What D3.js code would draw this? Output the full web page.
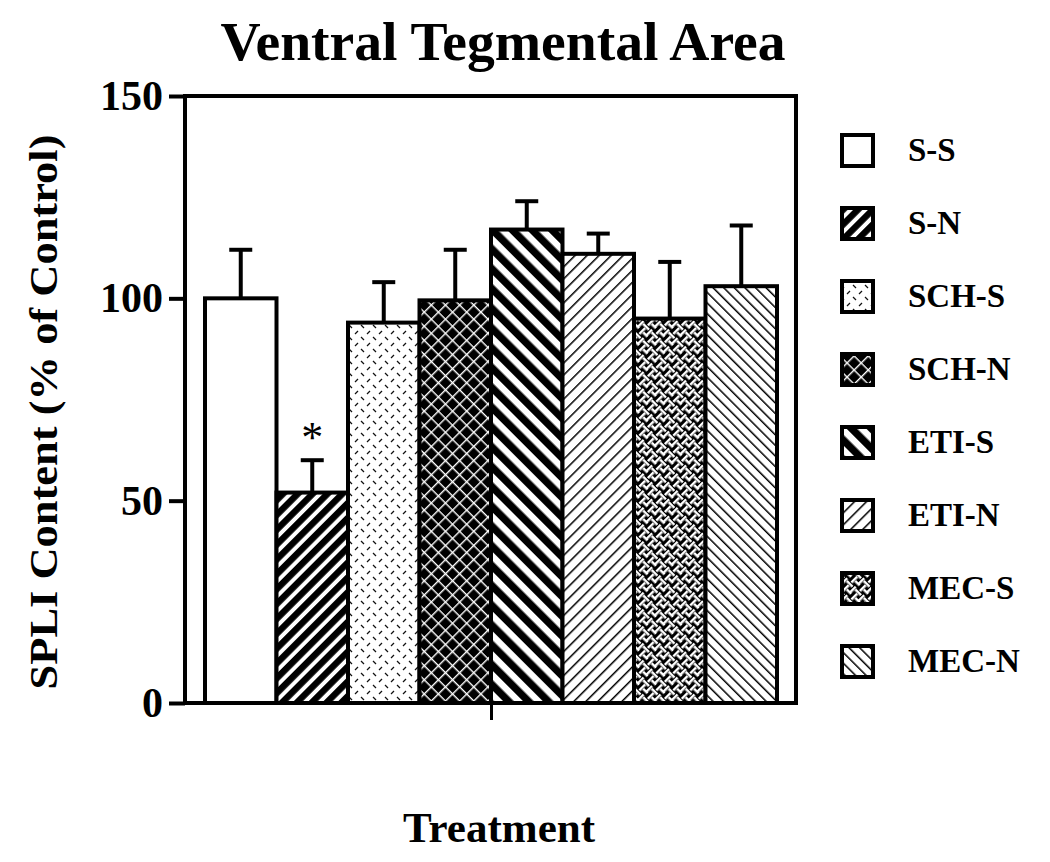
<!DOCTYPE html>
<html><head><meta charset="utf-8">
<script src="https://cdn.jsdelivr.net/npm/d3@7"></script>
<style>body{margin:0;background:#fff}svg{display:block}</style>
</head><body>
<svg id="chart" width="1050" height="862"></svg>
<script>
const categories = ["S-S","S-N","SCH-S","SCH-N","ETI-S","ETI-N","MEC-S","MEC-N"];
const means = [100, 52, 94, 99.5, 117, 111, 95, 103];
const errors = [12, 8, 10, 12.5, 7, 5, 14, 15];
const yTicks = [0, 50, 100, 150];
const patternIds = ["pSS","pSN","pSCHS","pSCHN","pETIS","pETIN","pMECS","pMECN"];

const svg = d3.select("#chart");
const font = "'Liberation Serif','Times New Roman',serif";
const defs = svg.append("defs");

function pat(id, size, rot) {
  const p = defs.append("pattern").attr("id", id).attr("patternUnits","userSpaceOnUse")
    .attr("width", size).attr("height", size);
  if (rot) p.attr("patternTransform", `rotate(${rot})`);
  return p;
}
pat("pSS", 10).append("rect").attr("width",10).attr("height",10).attr("fill","#fff");
{ const p = pat("pSN", 10.5, 45);
  p.append("rect").attr("width",10.5).attr("height",10.5).attr("fill","#fff");
  p.append("rect").attr("width",6.5).attr("height",10.5).attr("fill","#000"); }
{ const p = pat("pSCHS", 12, 0);
  p.append("rect").attr("width",12).attr("height",12).attr("fill","#fff");
  p.append("line").attr("x1",1).attr("y1",1).attr("x2",4).attr("y2",4).attr("stroke","#111").attr("stroke-width",1.3);
  p.append("line").attr("x1",7).attr("y1",10).attr("x2",10).attr("y2",7).attr("stroke","#111").attr("stroke-width",1.3); }
{ const p = pat("pSCHN", 10, 45);
  p.append("rect").attr("width",10).attr("height",10).attr("fill","#000");
  p.append("rect").attr("width",1.4).attr("height",10).attr("fill","#fff");
  p.append("rect").attr("width",10).attr("height",1.4).attr("fill","#fff"); }
{ const p = pat("pETIS", 14, -45);
  p.append("rect").attr("width",14).attr("height",14).attr("fill","#fff");
  p.append("rect").attr("width",7.5).attr("height",14).attr("fill","#000"); }
{ const p = pat("pETIN", 8.5, 45);
  p.append("rect").attr("width",8.5).attr("height",8.5).attr("fill","#fff");
  p.append("rect").attr("width",1.5).attr("height",8.5).attr("fill","#000"); }
{ const p = pat("pMECS", 12, 45);
  p.append("rect").attr("width",12).attr("height",12).attr("fill","#000");
  p.append("rect").attr("x",0).attr("y",1).attr("width",8).attr("height",2.5).attr("fill","#fff");
  p.append("rect").attr("x",9).attr("y",0).attr("width",2.5).attr("height",8).attr("fill","#fff");
  p.append("rect").attr("x",6).attr("y",7).attr("width",6).attr("height",2.5).attr("fill","#fff");
  p.append("rect").attr("x",3).attr("y",4).attr("width",2.5).attr("height",8).attr("fill","#fff"); }
{ const p = pat("pMECN", 7.5, -45);
  p.append("rect").attr("width",7.5).attr("height",7.5).attr("fill","#fff");
  p.append("rect").attr("width",1.5).attr("height",7.5).attr("fill","#000"); }

const frame = {left:185, right:796, top:96, bottom:703};
const x = d3.scaleBand().domain(categories).range([205, 777]).padding(0);
const y = d3.scaleLinear().domain([0,150]).range([frame.bottom, frame.top]);

svg.append("text").attr("x", 503).attr("y", 60).attr("text-anchor","middle")
  .attr("font-family", font).attr("font-weight","bold").attr("font-size", 54)
  .attr("textLength", 565).attr("lengthAdjust","spacingAndGlyphs")
  .text("Ventral Tegmental Area");

svg.append("g").selectAll("rect").data(categories).join("rect")
  .attr("x", d => x(d)).attr("width", x.bandwidth())
  .attr("y", (d,i) => y(means[i])).attr("height", (d,i) => y(0) - y(means[i]))
  .attr("fill", (d,i) => `url(#${patternIds[i]})`)
  .attr("stroke","#000").attr("stroke-width",4);

const eb = svg.append("g").attr("stroke","#000").attr("stroke-width",4);
categories.forEach((c,i) => {
  const cx = x(c) + x.bandwidth()/2;
  eb.append("line").attr("x1",cx).attr("x2",cx).attr("y1",y(means[i])).attr("y2",y(means[i]+errors[i]));
  eb.append("line").attr("x1",cx-11.5).attr("x2",cx+11.5).attr("y1",y(means[i]+errors[i])).attr("y2",y(means[i]+errors[i]));
});

svg.append("text").attr("x", x("S-N") + x.bandwidth()/2).attr("y", 452).attr("text-anchor","middle")
  .attr("font-family", font).attr("font-size", 44).text("*");

svg.append("rect").attr("x",frame.left).attr("y",frame.top)
  .attr("width",frame.right-frame.left).attr("height",frame.bottom-frame.top)
  .attr("fill","none").attr("stroke","#000").attr("stroke-width",4);

const yAxis = svg.append("g").attr("transform",`translate(${frame.left},0)`)
  .call(d3.axisLeft(y).tickValues(yTicks).tickSize(16).tickPadding(6));
yAxis.select(".domain").remove();
yAxis.selectAll(".tick line").attr("stroke","#000").attr("stroke-width",4);
yAxis.selectAll(".tick text").attr("font-family",font).attr("font-weight","bold")
  .attr("font-size",42).attr("fill","#000");

const xMid = d3.scaleLinear().domain([0,1]).range(x.range());
const xAxis = svg.append("g").attr("transform",`translate(0,${frame.bottom})`)
  .call(d3.axisBottom(xMid).tickValues([0.5]).tickSize(17).tickFormat(""));
xAxis.select(".domain").remove();
xAxis.selectAll(".tick line").attr("stroke","#000").attr("stroke-width",3);

svg.append("text").attr("x", 499).attr("y", 842).attr("text-anchor","middle")
  .attr("font-family",font).attr("font-weight","bold").attr("font-size",42)
  .attr("textLength",192).attr("lengthAdjust","spacingAndGlyphs").text("Treatment");
svg.append("text").attr("transform","translate(57,412) rotate(-90)").attr("text-anchor","middle")
  .attr("font-family",font).attr("font-weight","bold").attr("font-size",40)
  .attr("textLength",555).attr("lengthAdjust","spacingAndGlyphs").text("SPLI Content (% of Control)");

const legendY = d3.scalePoint().domain(categories).range([150, 661]);
const lg = svg.append("g").selectAll("g").data(categories).join("g")
  .attr("transform", d => `translate(840,${legendY(d)})`);
lg.append("rect").attr("x",2).attr("y",-15).attr("width",31).attr("height",31)
  .attr("fill",(d,i)=>`url(#${patternIds[i]})`).attr("stroke","#000").attr("stroke-width",4);
lg.append("text").attr("x",68).attr("y",11).attr("font-family",font).attr("font-weight","bold")
  .attr("font-size",33).attr("fill","#000").text(d=>d);
</script>
</body></html>
